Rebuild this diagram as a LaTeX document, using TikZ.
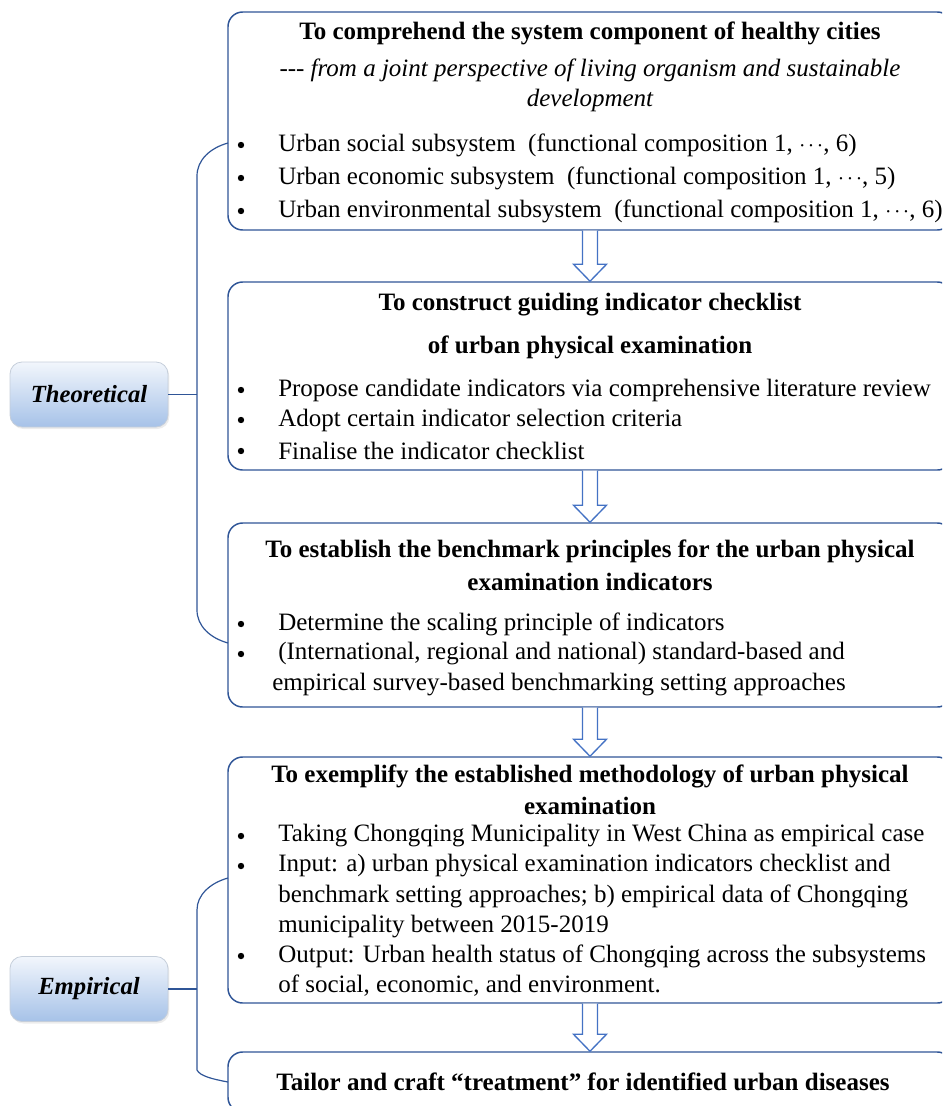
\documentclass[tikz,border=0pt]{standalone}
\usepackage{fontspec}
\setmainfont{Liberation Serif}
\usetikzlibrary{positioning, calc, shadows}

\definecolor{boxblue}{HTML}{2F5597}
\definecolor{arrowblue}{HTML}{4472C4}
\definecolor{tagtop}{HTML}{F2F6FC}
\definecolor{tagbottom}{HTML}{A6C2E8}
\definecolor{tagline}{HTML}{C5CEDA}

\newcommand{\tightdots}{\mbox{$\cdot\mkern-2mu\cdot\mkern-2mu\cdot$}}

\tikzset{
  stage/.style   = {draw=boxblue, line width=1.1pt, rounded corners=11pt, minimum width=543pt},
  tag/.style     = {draw=tagline, line width=0.6pt, rounded corners=9pt, top color=tagtop, bottom color=tagbottom,
                    minimum width=118.5pt, minimum height=48.75pt, drop shadow={opacity=0.15, shadow xshift=1pt, shadow yshift=-1.5pt},
                    font=\fontsize{18.5}{21}\selectfont\bfseries\itshape},
  heading/.style = {inner sep=0, font=\fontsize{18.75}{21}\selectfont\bfseries},
  note/.style    = {inner sep=0, font=\fontsize{18.75}{21}\selectfont\itshape},
  item/.style    = {inner sep=0, anchor=west, font=\fontsize{18.75}{21}\selectfont},
  dot/.style     = {circle, fill=black, inner sep=0, minimum size=4.8pt},
  brace/.style   = {draw=boxblue, line width=0.9pt},
  hollow/.style  = {draw=arrowblue, line width=1pt, fill=white, line join=miter},
}

% open block arrow from one box down to the next
\newcommand{\blockarrow}[2]{%
  \draw[hollow] ($(#1.south)+(-7.5,0)$) -- ($(#2.north)+(-7.5,-17)$) -- ($(#2.north)+(-16.5,-17)$)
    -- (#2.north) -- ($(#2.north)+(16.5,-17)$) -- ($(#2.north)+(7.5,-17)$) -- ($(#1.south)+(7.5,0)$);
}

\begin{document}
\begin{tikzpicture}[x=0.75pt, y=-0.75pt]
  \useasboundingbox (0,0) rectangle (942,1106);
  \clip (0,0) rectangle (942,1106);

  % stages
  \node (b1) [stage, minimum height=163.5pt] at (590,121)  {};
  \node (b2) [stage, minimum height=141pt]   at (590,376)  {};
  \node (b3) [stage, minimum height=138pt]   at (590,615)  {};
  \node (b4) [stage, minimum height=184.5pt] at (590,880)  {};
  \node (b5) [stage, minimum height=45pt]    at (590,1082) {};

  \blockarrow{b1}{b2}
  \blockarrow{b2}{b3}
  \blockarrow{b3}{b4}
  \blockarrow{b4}{b5}

  % side tags
  \node (theo) [tag] at (89,394.5) {Theoretical};
  \node (emp)  [tag] at (89,989)   {Empirical};

  \coordinate (thA) at (228,143);
  \coordinate (thB) at (197,394.5);
  \coordinate (thC) at (228,643);
  \coordinate (emA) at (228,878);
  \coordinate (emB) at (197,989);
  \coordinate (emC) at (228,1082);

  \draw[brace] (thA) .. controls (210,148) and (197,160) .. (197,176) -- (197,610)
               .. controls (197,626) and (210,638) .. (thC);
  \draw[brace] (theo.east) -- (thB);
  \draw[brace] (emA) .. controls (210,883) and (197,895) .. (197,910) -- (197,1070)
               .. controls (200,1076) and (212,1079) .. (emC);
  \draw[brace] (emp.east) -- (emB);

  % stage 1
  \node (h1)  [heading] at (590,33) {To comprehend the system component of healthy cities};
  \node (n1a) [note]    at (590,70) {-{}-{}- from a joint perspective of living organism and sustainable};
  \node (n1b) [note]    at (590,100) {development};
  \foreach \y/\txt in {145/{Urban social subsystem\ \ (functional composition 1, \tightdots, 6)},
                       178/{Urban economic subsystem\ \ (functional composition 1, \tightdots, 5)},
                       211/{Urban environmental subsystem\ \ (functional composition 1, \tightdots, 6)}}{
    \node [dot] at (241,\y) {};
    \node [item] at (278,\y) {\txt};
  }

  % stage 2
  \node (h2a) [heading] at (590,305) {To construct guiding indicator checklist};
  \node (h2b) [heading] at (590,347) {of urban physical examination};
  \foreach \y/\txt in {390/{Propose candidate indicators via comprehensive literature review},
                       420/{Adopt certain indicator selection criteria},
                       451/{Finalise the indicator checklist}}{
    \node [dot] at (241,\y) {};
    \node [item] at (278,\y) {\txt};
  }

  % stage 3
  \node (h3a) [heading] at (590,551) {To establish the benchmark principles for the urban physical};
  \node (h3b) [heading] at (590,582) {examination indicators};
  \foreach \y/\txt in {624/{Determine the scaling principle of indicators},
                       654/{(International, regional and national) standard-based and}}{
    \node [dot] at (241,\y) {};
    \node [item] at (278,\y) {\txt};
  }
  \node [item] at (272,685) {empirical survey-based benchmarking setting approaches};

  % stage 4
  \node (h4a) [heading] at (590,776) {To exemplify the established methodology of urban physical};
  \node (h4b) [heading] at (590,806) {examination};
  \foreach \y/\txt in {836/{Taking Chongqing Municipality in West China as empirical case},
                       866/{Input: a) urban physical examination indicators checklist and},
                       956/{Output: Urban health status of Chongqing across the subsystems}}{
    \node [dot] at (241,\y) {};
    \node [item] at (278,\y) {\txt};
  }
  \node [item] at (278,896) {benchmark setting approaches; b) empirical data of Chongqing};
  \node [item] at (278,927) {municipality between 2015-2019};
  \node [item] at (278,986) {of social, economic, and environment.};

  % stage 5
  \node (h5) [heading] at (583,1082) {Tailor and craft “treatment” for identified urban diseases};
\end{tikzpicture}
\end{document}
